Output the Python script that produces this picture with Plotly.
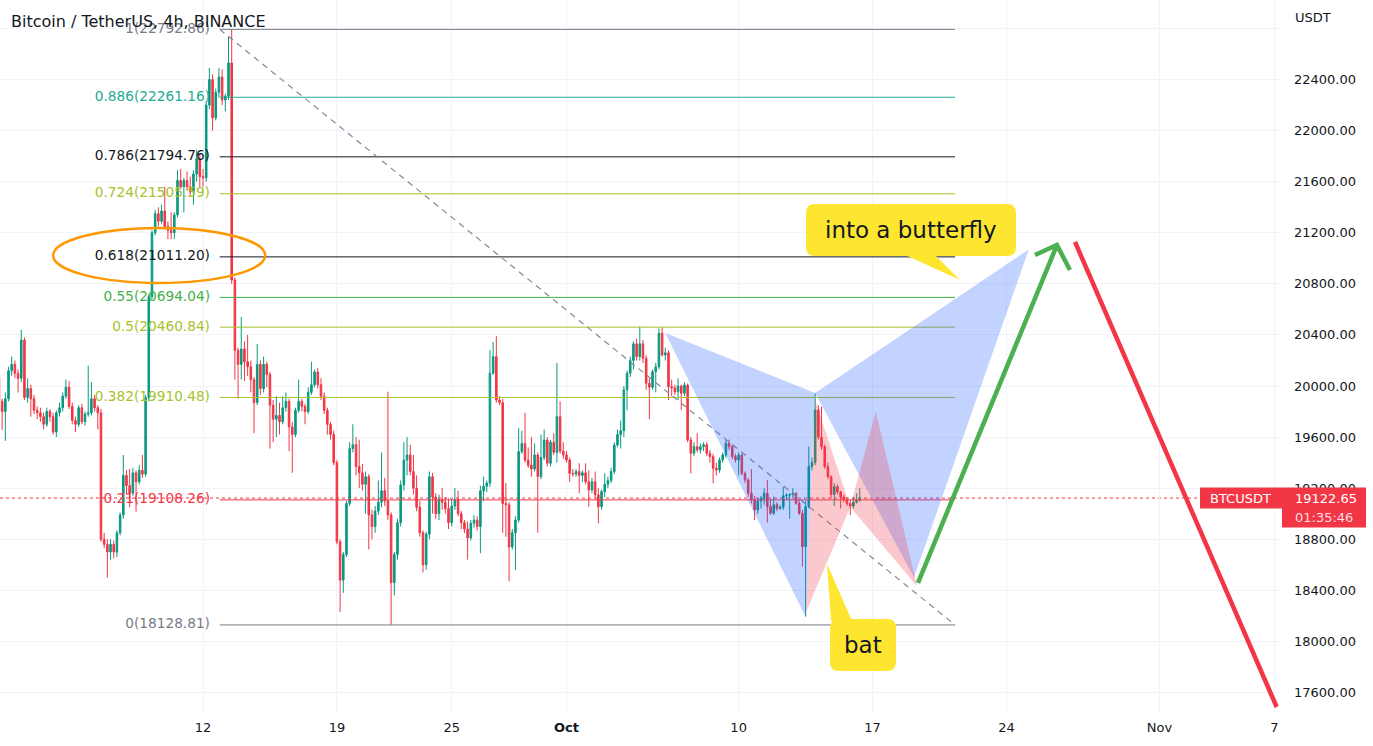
import pandas as pd
import plotly.graph_objects as go

TITLE = "Bitcoin / TetherUS, 4h, BINANCE"
START = "2022-09-01 08:00"   # first 4h candle shown

opens = [
    20070,19880,19800,19900,20120,20170,20100,20060,20360,19910,
    19980,19900,19810,19790,19760,19700,19800,19760,19640,19790,
    19830,19920,19990,19840,19730,19700,19830,19720,19780,19790,
    19900,19830,19790,18800,18760,18700,18760,18700,18850,18990,
    19300,19220,19160,19320,19250,19340,19310,19910,20700,21200,
    21350,21290,21370,21250,21220,21200,21340,21610,21560,21610,
    21560,21520,21660,21780,21640,21630,22200,22400,22100,22300,
    22420,22240,22270,22530,20830,20280,20170,20290,20190,20150,
    20050,19870,20170,19980,20170,20090,19850,19740,19770,19720,
    19830,19880,19680,19620,19810,19880,19840,19800,19950,20010,
    20110,20010,19920,19810,19700,19620,19400,18780,18480,18680,
    19080,19510,19540,19370,19320,19230,19290,18990,18900,19020,
    19090,19180,19100,18990,18460,18680,18930,19225,19420,19460,
    19330,19200,19050,18850,18600,18840,19290,19130,19000,19110,
    19090,19040,18930,19060,19110,19000,18930,18880,18810,18925,
    18950,18900,19180,19215,19240,20100,20230,19890,19870,19080,
    19070,18740,18850,18950,19486,19550,19420,19380,19350,19460,
    19290,19440,19577,19395,19560,19480,19760,19490,19460,19420,
    19316,19310,19330,19300,19320,19250,19186,19250,19147,19055,
    19173,19230,19260,19330,19538,19620,19650,19970,20100,20200,
    20330,20230,20330,20217,20021,19990,20112,20150,20413,20243,
    20260,19995,19985,19955,20000,19943,20008,19577,19473,19525,
    19500,19525,19540,19473,19447,19356,19343,19421,19460,19551,
    19525,19447,19421,19460,19316,19264,19160,19110,19030,19100,
    19120,19160,19055,19003,19070,19040,19050,19140,19145,19150,
    19160,19081,19003,18742,19055,19369,19400,19812,19600,19525,
    19369,19290,19150,19212,19170,19130,19107,19081,19060,19090,19105,
]
highs = [
    20100,19900,19950,20150,20230,20200,20130,20440,20380,20060,
    20010,19930,19840,19830,19790,19830,19820,19790,19810,19870,
    19950,20050,20040,19870,19760,19850,19860,19800,20160,20030,
    19930,19850,19820,18850,18800,18800,18790,18870,19010,19460,
    19340,19350,19360,19340,19380,19460,19930,20720,21220,21380,
    21400,21420,21560,21290,21360,21360,21690,21700,21630,21680,
    21640,21690,21850,21820,21700,22230,22490,22440,22330,22490,
    22480,22290,22740,22793,20850,20300,20540,20350,20400,20200,
    20070,20330,20200,20230,20190,20110,19890,19920,19870,19920,
    19950,19900,19720,19830,20050,19900,19860,19990,20190,20130,
    20140,20060,19950,19830,19720,19650,19420,18800,18700,19100,
    19560,19700,19600,19580,19390,19330,19310,19030,19060,19260,
    19480,19280,19955,19010,18700,18960,19260,19560,19600,19540,
    19460,19300,19100,18870,18860,19330,19320,19160,19150,19200,
    19130,19120,19120,19200,19180,19020,18950,18940,18950,18990,
    18980,19220,19290,19260,20280,20345,20390,19920,19900,19240,
    19090,18880,18980,19670,19650,19790,19520,19600,19550,19480,
    19620,19660,19600,19580,19630,20180,19880,19560,19490,19440,
    19350,19350,19395,19340,19395,19340,19280,19330,19200,19190,
    19316,19290,19360,19560,19660,19730,20000,20120,20230,20350,
    20370,20465,20360,20240,20060,20130,20180,20450,20460,20300,
    20280,20050,20010,20060,20010,20030,20020,19600,19560,19630,
    19550,19560,19560,19500,19470,19400,19440,19480,19580,19580,
    19540,19470,19480,19470,19330,19280,19350,19140,19120,19140,
    19200,19264,19110,19133,19090,19070,19212,19160,19160,19200,
    19170,19110,19030,19100,19525,19440,19943,19850,19838,19540,
    19400,19300,19240,19230,19180,19150,19130,19110,19130,19160,19200,
]
lows = [
    19850,19656,19570,19880,20080,20060,19950,20030,19890,19870,
    19760,19780,19740,19720,19660,19680,19720,19620,19600,19760,
    19800,19900,19820,19700,19640,19680,19700,19690,19760,19770,
    19800,19660,18780,18730,18500,18640,18650,18660,18830,18960,
    19150,19050,19140,19015,19230,19280,19290,19880,20680,21180,
    21250,21270,21230,21150,21150,21150,21320,21540,21360,21530,
    21490,21420,21600,21560,21560,21600,22170,22000,22080,22260,
    22200,22150,22240,20800,20050,19900,20050,20040,20080,19950,
    19630,19850,19930,19950,19990,19510,19560,19600,19620,19700,
    19800,19490,19320,19600,19790,19800,19700,19780,19930,19990,
    19980,19890,19780,19620,19580,19380,18760,18230,18380,18660,
    19060,19480,19300,19200,19180,19000,18720,18800,18850,18990,
    19050,19060,18950,18130,18360,18640,18900,19180,19300,19300,
    19150,19020,18820,18540,18560,18800,19000,18960,18950,19030,
    19000,18880,18900,19030,18980,18880,18850,18640,18790,18890,
    18870,18690,19100,19170,19210,20090,19870,19850,18850,18820,
    18470,18720,18560,18930,19470,19400,19360,19290,19330,18850,
    19270,19420,19370,19370,19460,19400,19470,19430,19400,19250,
    19290,19290,19160,19250,19230,19055,19160,19120,18925,19030,
    19130,19200,19240,19310,19520,19510,19600,19810,20070,20130,
    20200,20200,20180,19970,19740,19970,19950,20130,20230,20200,
    19890,19920,19930,19890,19812,19920,19560,19316,19450,19480,
    19470,19490,19450,19400,19238,19300,19320,19400,19440,19500,
    19430,19400,19300,19300,19240,19130,19080,18950,19000,19040,
    19070,18930,18990,18990,19020,19030,19030,19110,18960,19130,
    19070,18990,18585,18194,19040,19340,19380,19580,19500,19350,
    19270,19120,19060,19150,19040,19090,19060,18990,19040,19080,19095,
]
closes = [
    19880,19800,19900,20120,20170,20100,20060,20360,19910,19980,
    19900,19810,19790,19760,19700,19800,19760,19640,19790,19830,
    19920,19990,19840,19730,19700,19830,19720,19780,19790,19900,
    19830,19790,18800,18760,18700,18760,18700,18850,18990,19300,
    19220,19160,19320,19250,19340,19310,19910,20700,21200,21350,
    21290,21370,21250,21220,21200,21340,21610,21560,21610,21560,
    21520,21660,21780,21640,21630,22200,22400,22100,22300,22420,
    22240,22270,22530,20830,20280,20170,20290,20190,20150,20050,
    19870,20170,19980,20170,20090,19850,19740,19770,19720,19830,
    19880,19680,19620,19810,19880,19840,19800,19950,20010,20110,
    20010,19920,19810,19700,19620,19400,18780,18480,18680,19080,
    19510,19540,19370,19320,19230,19290,18990,18900,19020,19090,
    19180,19100,18990,18460,18680,18930,19225,19420,19460,19330,
    19200,19050,18850,18600,18840,19290,19130,19000,19110,19090,
    19040,18930,19060,19110,19000,18930,18880,18810,18925,18950,
    18900,19180,19215,19240,20100,20230,19890,19870,19080,19070,
    18740,18850,18950,19486,19550,19420,19380,19350,19460,19290,
    19440,19577,19395,19560,19480,19760,19490,19460,19420,19316,
    19310,19330,19300,19320,19250,19186,19250,19147,19055,19173,
    19230,19260,19330,19538,19620,19650,19970,20100,20200,20330,
    20230,20330,20217,20021,19990,20112,20150,20413,20243,20260,
    19995,19985,19955,20000,19943,20008,19577,19473,19525,19500,
    19525,19540,19473,19447,19356,19343,19421,19460,19551,19525,
    19447,19421,19460,19316,19264,19160,19110,19030,19100,19120,
    19160,19055,19003,19070,19040,19050,19140,19145,19150,19160,
    19081,19003,18742,19055,19369,19400,19812,19600,19525,19369,
    19290,19150,19212,19170,19130,19107,19081,19060,19090,19105,19122.65,
]

# Fibonacci retracement drawing
FIB_LEVELS = ["1", "0.886", "0.786", "0.724", "0.618", "0.55", "0.5", "0.382", "0.21", "0"]
FIB_PRICES = [22792.86, 22261.16, 21794.76, 21505.59, 21011.20, 20694.04, 20460.84, 19910.48, 19108.26, 18128.81]
FIB_COLORS = ["#787b86", "#22ab94", "#131722", "#a5c22a", "#131722", "#43b047", "#a5c22a", "#a5c22a", "#f23645", "#787b86"]
FIB_START = "2022-09-12 21:00"
FIB_END = "2022-10-21 07:30"
FIB_LABEL_X = "2022-09-12 08:45"

# harmonic patterns (X, A, B, C, D)
BFLY_T = ["2022-10-06 04:00", "2022-10-13 12:00", "2022-10-14 00:00", "2022-10-19 04:00", "2022-10-25 04:00"]
BFLY_P = [20415, 18192, 19945, 18500, 21070]
BAT_T = ["2022-10-13 12:00", "2022-10-14 00:00", "2022-10-15 20:00", "2022-10-17 04:00", "2022-10-19 08:00"]
BAT_P = [18220, 19890, 19053, 19800, 18430]

# projection arrows
UP_T = ["2022-10-19 09:00", "2022-10-26 15:20"]
UP_P = [18458, 21104]
UP_HEAD_T = ["2022-10-25 11:45", "2022-10-26 15:20", "2022-10-27 07:40"]
UP_HEAD_P = [21026, 21104, 20909]
DOWN_T = ["2022-10-27 14:00", "2022-11-07 03:00"]
DOWN_P = [21128, 17486]

# circled level
CIRCLE_T = ["2022-09-04 04:00", "2022-09-15 06:00"]
CIRCLE_P = [20807, 21238]

# callouts: anchor (top-left) time, price
CALL1_T, CALL1_P, CALL1_TEXT = "2022-10-13 12:30", 21425, "into a butterfly"
CALL2_T, CALL2_P, CALL2_TEXT = "2022-10-14 18:40", 18176, "bat"

X_TICKS = ["2022-09-12", "2022-09-19", "2022-09-25", "2022-10-01", "2022-10-10",
           "2022-10-17", "2022-10-24", "2022-11-01", "2022-11-07"]
X_TICKTEXT = ["12", "19", "25", "<b>Oct</b>", "10", "17", "24", "Nov", "7"]
Y_TICKS = [17600 + 400 * k for k in range(14)]
X_RANGE = ["2022-09-01 09:19", "2022-11-07 09:41"]
Y_RANGE = [17447, 23023]

UP = "#089981"
DN = "#f23645"
TXT = "#131722"
GRID = "#f0f3fa"
FONT = "DejaVu Sans"
ARROW_GREEN = "#4caf50"

times = pd.date_range(START, periods=len(closes), freq="4h")

fig = go.Figure()

# fib lines + diagonal
for lvl, price, col in zip(FIB_LEVELS, FIB_PRICES, FIB_COLORS):
    fig.add_trace(go.Scatter(x=[FIB_START, FIB_END], y=[price, price], mode="lines",
                             line=dict(color=col, width=1), hoverinfo="skip", showlegend=False))
fig.add_trace(go.Scatter(x=[FIB_START, FIB_END], y=[FIB_PRICES[0], FIB_PRICES[-1]], mode="lines",
                         line=dict(color="#868993", width=1.2, dash="6px,5px"),
                         hoverinfo="skip", showlegend=False))
fig.add_trace(go.Scatter(
    x=[FIB_LABEL_X] * len(FIB_LEVELS), y=FIB_PRICES, mode="text",
    text=[f"{l}({p:.2f})" for l, p in zip(FIB_LEVELS, FIB_PRICES)],
    textposition="middle left",
    textfont=dict(family=FONT, size=13.7, color=FIB_COLORS),
    hoverinfo="skip", showlegend=False))

# candles
fig.add_trace(go.Candlestick(
    x=times, open=opens, high=highs, low=lows, close=closes,
    increasing=dict(line=dict(color=UP, width=1), fillcolor=UP),
    decreasing=dict(line=dict(color=DN, width=1), fillcolor=DN),
    whiskerwidth=0, hoverinfo="skip", showlegend=False))

# harmonic pattern fills
def tri(ts, ps, idx, color):
    fig.add_trace(go.Scatter(x=[ts[i] for i in idx] + [ts[idx[0]]],
                             y=[ps[i] for i in idx] + [ps[idx[0]]],
                             mode="lines", fill="toself", fillcolor=color,
                             line=dict(width=0, color=color), hoverinfo="skip", showlegend=False))

BLUE = "rgba(41,98,255,0.28)"
PINK = "rgba(242,54,69,0.27)"
tri(BFLY_T, BFLY_P, [0, 1, 2], BLUE)
tri(BFLY_T, BFLY_P, [2, 3, 4], BLUE)
tri(BAT_T, BAT_P, [0, 1, 2], PINK)
tri(BAT_T, BAT_P, [2, 3, 4], PINK)

# arrows
fig.add_trace(go.Scatter(x=UP_T, y=UP_P, mode="lines", line=dict(color=ARROW_GREEN, width=4.5),
                         hoverinfo="skip", showlegend=False))
fig.add_trace(go.Scatter(x=UP_HEAD_T, y=UP_HEAD_P, mode="lines", line=dict(color=ARROW_GREEN, width=4.5),
                         hoverinfo="skip", showlegend=False))
fig.add_trace(go.Scatter(x=DOWN_T, y=DOWN_P, mode="lines", line=dict(color=DN, width=4.5),
                         hoverinfo="skip", showlegend=False))

shapes = []
# last price dotted line
shapes.append(dict(type="line", xref="paper", yref="y", x0=0, x1=1, y0=closes[-1], y1=closes[-1],
                   line=dict(color=DN, width=1, dash="dot"), layer="below"))
# orange circle
shapes.append(dict(type="circle", xref="x", yref="y", x0=CIRCLE_T[0], x1=CIRCLE_T[1],
                   y0=CIRCLE_P[0], y1=CIRCLE_P[1], line=dict(color="#ff9800", width=2.5)))


def rrect(w, h, r):
    return (f"M {r} 0 L {w-r} 0 Q {w} 0 {w} {-r} L {w} {-(h-r)} Q {w} {-h} {w-r} {-h} "
            f"L {r} {-h} Q 0 {-h} 0 {-(h-r)} L 0 {-r} Q 0 0 {r} 0 Z")

YEL = "#fde530"
shapes.append(dict(type="path", xref="x", yref="y", xsizemode="pixel", ysizemode="pixel",
                   xanchor=CALL1_T, yanchor=CALL1_P, path=rrect(210, 52, 9),
                   fillcolor=YEL, line=dict(width=0)))
shapes.append(dict(type="path", xref="x", yref="y", xsizemode="pixel", ysizemode="pixel",
                   xanchor=CALL1_T, yanchor=CALL1_P, path="M 97 -50 L 154 -76 L 128 -50 Z",
                   fillcolor=YEL, line=dict(width=0)))
shapes.append(dict(type="path", xref="x", yref="y", xsizemode="pixel", ysizemode="pixel",
                   xanchor=CALL2_T, yanchor=CALL2_P, path=rrect(66, 52, 9),
                   fillcolor=YEL, line=dict(width=0)))
shapes.append(dict(type="path", xref="x", yref="y", xsizemode="pixel", ysizemode="pixel",
                   xanchor=CALL2_T, yanchor=CALL2_P, path="M 1 -2 L -3 55 L 22 -2 Z",
                   fillcolor=YEL, line=dict(width=0)))

# price-axis labels for last price
PW = 1282.0
shapes.append(dict(type="rect", xref="paper", yref="y", ysizemode="pixel", yanchor=closes[-1],
                   x0=1200 / PW, x1=1.0, y0=-10.5, y1=10.5, fillcolor=DN, line=dict(width=0)))
shapes.append(dict(type="rect", xref="paper", yref="y", ysizemode="pixel", yanchor=closes[-1],
                   x0=1.0, x1=1366 / PW, y0=-29.5, y1=10.5, fillcolor=DN, line=dict(width=0)))

annotations = [
    dict(text=TITLE, xref="paper", yref="paper", x=0, y=1, xanchor="left", yanchor="top",
         xshift=9, yshift=-10, showarrow=False, font=dict(family=FONT, size=16, color=TXT)),
    dict(text="USDT", xref="paper", yref="paper", x=1, y=1, xanchor="left", yanchor="middle",
         xshift=11, yshift=-17, showarrow=False, font=dict(family=FONT, size=13, color=TXT)),
    dict(text=CALL1_TEXT, xref="x", yref="y", x=CALL1_T, y=CALL1_P, xanchor="center", yanchor="middle",
         xshift=105, yshift=-26, showarrow=False, font=dict(family=FONT, size=23, color=TXT)),
    dict(text=CALL2_TEXT, xref="x", yref="y", x=CALL2_T, y=CALL2_P, xanchor="center", yanchor="middle",
         xshift=33, yshift=-26, showarrow=False, font=dict(family=FONT, size=23, color=TXT)),
    dict(text="BTCUSDT", xref="paper", yref="y", x=1240 / PW, y=closes[-1], xanchor="center",
         yanchor="middle", showarrow=False, font=dict(family=FONT, size=13, color="white")),
    dict(text=f"{closes[-1]:.2f}", xref="paper", yref="y", x=1, y=closes[-1], xanchor="left",
         yanchor="middle", xshift=11, showarrow=False, font=dict(family=FONT, size=13, color="white")),
    dict(text="01:35:46", xref="paper", yref="y", x=1, y=closes[-1], xanchor="left",
         yanchor="middle", xshift=11, yshift=-19, showarrow=False,
         font=dict(family=FONT, size=13, color="#ffdde0")),
]

fig.update_layout(
    template="none",
    width=1373, height=746,
    margin=dict(l=0, r=91, t=0, b=34, autoexpand=False),
    paper_bgcolor="white", plot_bgcolor="white",
    font=dict(family=FONT, color=TXT, size=13),
    showlegend=False, hovermode=False,
    shapes=shapes, annotations=annotations,
    xaxis=dict(type="date", range=X_RANGE, tickvals=X_TICKS, ticktext=X_TICKTEXT,
               showgrid=True, gridcolor=GRID, gridwidth=1, zeroline=False, showline=False,
               ticks="", tickfont=dict(family=FONT, size=13, color=TXT),
               rangeslider=dict(visible=False), automargin=False, ticklabelstandoff=6),
    yaxis=dict(side="right", range=Y_RANGE, tickvals=Y_TICKS,
               ticktext=[f"{v:.2f}" if v <= 22400 else "" for v in Y_TICKS],
               showgrid=True, gridcolor=GRID, gridwidth=1, zeroline=False, showline=False,
               ticks="", tickfont=dict(family=FONT, size=13, color=TXT),
               automargin=False, ticklabelstandoff=11),
)

fig.write_html("out.html")
